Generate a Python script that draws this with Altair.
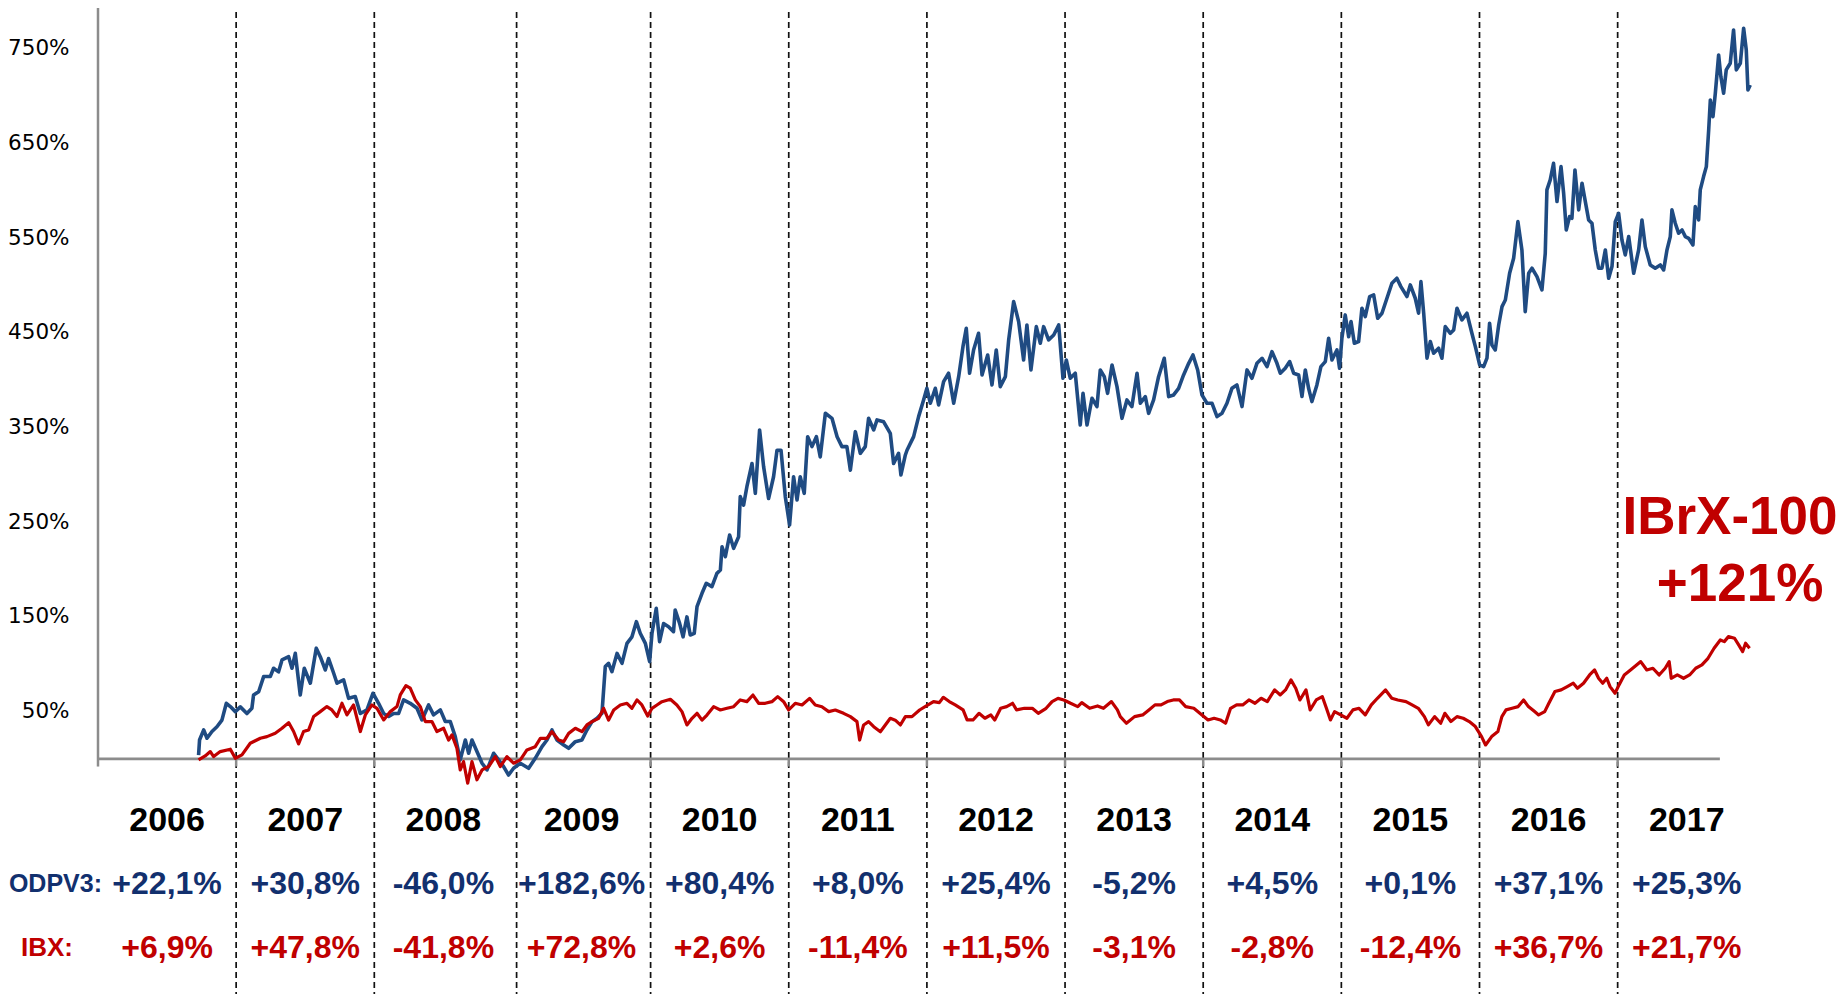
import altair as alt
import pandas as pd

# ---------------- data ----------------
years = list(range(2006, 2018))
odpv3_returns = ["+22,1%", "+30,8%", "-46,0%", "+182,6%", "+80,4%", "+8,0%",
                 "+25,4%", "-5,2%", "+4,5%", "+0,1%", "+37,1%", "+25,3%"]
ibx_returns = ["+6,9%", "+47,8%", "-41,8%", "+72,8%", "+2,6%", "-11,4%",
               "+11,5%", "-3,1%", "-2,8%", "-12,4%", "+36,7%", "+21,7%"]
year_bounds = [2007.0, 2008.0, 2009.03, 2010.0, 2011.0, 2012.0, 2013.0,
               2014.0, 2015.0, 2016.0, 2017.0]
tick_years = [2006.0] + year_bounds
axis_end = 2017.74
y_ticks = [50, 150, 250, 350, 450, 550, 650, 750]

series_label_1 = "ODPV3:"
series_label_2 = "IBX:"
end_label_1 = "IBrX-100"
end_label_2 = "+121%"

odpv3_t = [
    2006.728, 2006.735, 2006.765, 2006.789, 2006.825, 2006.861, 2006.897, 2006.929, 2006.958, 2006.994,
    2007.030, 2007.078, 2007.114, 2007.126, 2007.163, 2007.199, 2007.247, 2007.271, 2007.307, 2007.332,
    2007.380, 2007.404, 2007.428, 2007.464, 2007.493, 2007.537, 2007.580, 2007.609, 2007.645, 2007.669,
    2007.706, 2007.730, 2007.778, 2007.814, 2007.862, 2007.899, 2007.947, 2007.990, 2008.031, 2008.068,
    2008.104, 2008.140, 2008.176, 2008.212, 2008.260, 2008.309, 2008.345, 2008.393, 2008.429, 2008.478,
    2008.514, 2008.550, 2008.586, 2008.622, 2008.659, 2008.683, 2008.707, 2008.743, 2008.780, 2008.816,
    2008.864, 2008.900, 2008.936, 2008.972, 2009.008,
    2009.057, 2009.117, 2009.165, 2009.214, 2009.250, 2009.286, 2009.322, 2009.371, 2009.407, 2009.455,
    2009.503, 2009.539, 2009.576, 2009.612, 2009.648, 2009.672, 2009.696, 2009.720, 2009.757, 2009.793,
    2009.829, 2009.865, 2009.897, 2009.925, 2009.962, 2009.993, 2010.010, 2010.041, 2010.065, 2010.094,
    2010.130, 2010.166, 2010.178, 2010.210, 2010.235, 2010.263, 2010.287, 2010.316, 2010.336, 2010.372,
    2010.403, 2010.444, 2010.480, 2010.505, 2010.517, 2010.541, 2010.572, 2010.601, 2010.637, 2010.649,
    2010.673, 2010.697, 2010.734, 2010.758, 2010.789, 2010.818, 2010.854, 2010.890, 2010.915, 2010.944,
    2010.975, 2011.006, 2011.035, 2011.060, 2011.083, 2011.112, 2011.137, 2011.168, 2011.200, 2011.228,
    2011.265, 2011.313, 2011.350, 2011.385, 2011.421, 2011.446, 2011.482, 2011.518, 2011.554, 2011.578,
    2011.615, 2011.639, 2011.687, 2011.735, 2011.759, 2011.795, 2011.812, 2011.844,
    2011.856, 2011.904, 2011.940, 2011.976, 2012.000, 2012.025, 2012.061, 2012.085, 2012.121, 2012.157,
    2012.194, 2012.230, 2012.261, 2012.285, 2012.309, 2012.338, 2012.374, 2012.399, 2012.440, 2012.471,
    2012.502, 2012.531, 2012.568, 2012.592, 2012.628, 2012.664, 2012.700, 2012.724, 2012.753, 2012.792,
    2012.821, 2012.845, 2012.881, 2012.918, 2012.954, 2012.985, 2013.009, 2013.038, 2013.074, 2013.110,
    2013.130, 2013.159, 2013.195, 2013.231, 2013.255, 2013.284, 2013.308, 2013.340, 2013.376, 2013.412,
    2013.448, 2013.484, 2013.521, 2013.545, 2013.581, 2013.605, 2013.641, 2013.677, 2013.718, 2013.750,
    2013.786, 2013.822, 2013.858, 2013.895, 2013.926, 2013.960, 2013.991, 2014.027, 2014.064, 2014.100,
    2014.136, 2014.172, 2014.208, 2014.244, 2014.281, 2014.317, 2014.353, 2014.389, 2014.426, 2014.462,
    2014.498, 2014.534,
    2014.558, 2014.594, 2014.626, 2014.655, 2014.691, 2014.715, 2014.739, 2014.763, 2014.787, 2014.823,
    2014.852, 2014.884, 2014.908, 2014.932, 2014.968, 2014.987, 2015.004, 2015.028, 2015.053, 2015.070,
    2015.094, 2015.125, 2015.149, 2015.173, 2015.205, 2015.234, 2015.263, 2015.294, 2015.330, 2015.366,
    2015.402, 2015.431, 2015.475, 2015.499, 2015.535, 2015.559, 2015.576, 2015.596, 2015.620, 2015.644,
    2015.668, 2015.704, 2015.728, 2015.752, 2015.789, 2015.813, 2015.837, 2015.873, 2015.909, 2015.945,
    2015.970, 2016.001, 2016.030, 2016.054, 2016.073, 2016.090, 2016.114, 2016.139, 2016.163, 2016.187,
    2016.218, 2016.247, 2016.278, 2016.307, 2016.331, 2016.356, 2016.380, 2016.416, 2016.452, 2016.476,
    2016.488, 2016.512, 2016.536, 2016.561, 2016.590, 2016.609, 2016.628, 2016.652, 2016.669, 2016.691,
    2016.718, 2016.742, 2016.766, 2016.790, 2016.814, 2016.838, 2016.862, 2016.886, 2016.911, 2016.935,
    2016.959, 2016.983, 2017.007, 2017.031, 2017.055, 2017.080, 2017.116, 2017.152, 2017.176, 2017.200,
    2017.236, 2017.272, 2017.309, 2017.333, 2017.357, 2017.381, 2017.393, 2017.417, 2017.441, 2017.466,
    2017.490, 2017.514, 2017.545, 2017.562, 2017.586, 2017.598, 2017.622, 2017.642, 2017.659, 2017.671,
    2017.690, 2017.707, 2017.731, 2017.747, 2017.767, 2017.786, 2017.815, 2017.839, 2017.859, 2017.888,
    2017.912, 2017.931, 2017.943, 2017.960,
]
odpv3_v = [
    4, 20, 30.7, 21.9, 29, 34, 41, 58.8, 55.3, 50,
    55, 48, 53.5, 67.6, 71, 87, 87, 95.8, 92, 104.6,
    108, 95.8, 111.6, 67.6, 95.8, 80, 117, 108, 94, 106,
    90.5, 80, 83.5, 64, 65.9, 48, 51.8, 69.4, 58.8, 48,
    44.8, 48, 48, 62.4, 58.8, 53.5, 41.2, 57, 46.5, 51.8,
    39.5, 39.5, 23.6, -1, 20, 6, 20, 7.8, -4.5, -11.6,
    6, -1, -8, -17, -9.8,
    -4.6, -9.9, 0.7, 13, 20, 30.6, 20, 14.7, 11.2, 18.3,
    20, 30.6, 39.4, 42.9, 48.2, 97.5, 101, 92.2, 111.5, 101,
    122, 129, 145, 132.7, 122, 102.7, 132.7, 159, 123.9, 143,
    139.7, 134.4, 157.3, 143.2, 129, 150, 130.9, 132.7, 160.8, 174.9,
    185.5, 182, 196, 199.5, 224, 213.6, 236.5, 222.4, 234.7, 277,
    268, 287.5, 312, 280.5, 347.4, 308.7, 275, 298, 326, 326,
    277, 247, 298, 273.5, 298, 280.5, 340.3, 329.8, 340.3, 319,
    365, 359.7, 340.3, 329.8, 329.8, 305, 345.6, 322.7, 329.8, 359.7,
    347.4, 358, 356, 343.9, 312, 322.7, 299.9, 321,
    326, 340.4, 361.5, 379, 391.4, 375.6, 391.4, 373.8, 398.5, 407.3,
    375.6, 403.7, 435.4, 454.8, 407.3, 431.9, 449.5, 405.5, 426.6, 395,
    431.9, 393.2, 403.7, 442.5, 483, 461.8, 421.3, 458.3, 410.8, 456.5,
    439, 456.5, 442.5, 447.7, 458.3, 402, 421.3, 402, 407.3, 352.7,
    386.1, 352.7, 380.9, 372.1, 410.8, 403.7, 386.1, 416, 393.2, 359.7,
    379.1, 372.1, 407.3, 375.6, 382.6, 365, 379.1, 403.7, 423.1, 382.6,
    384.4, 391.4, 405.5, 417.8, 426.6, 410.8, 384.4, 375.6, 375.6, 361.5,
    365, 375.6, 391.4, 395, 372.1, 410.8, 402, 417.8, 423.1, 414.3,
    430.1, 417.8,
    407.3, 412.6, 419.6, 407.3, 405.5, 382.7, 410.8, 391.4, 377.4, 395,
    414.3, 419.6, 444.3, 421.4, 431.9, 412.6, 444.3, 468.9, 446, 461.9,
    439, 440.8, 476, 467.1, 488.3, 490, 465.4, 470.7, 486.5, 502.3,
    507.6, 498.8, 488.3, 500.6, 486.5, 470.7, 504.1, 470.7, 423.2, 440.8,
    428.4, 433.7, 423.2, 456.6, 449.5, 453, 475.9, 463.6, 470.7, 449.5,
    435.4, 416.1, 414.3, 423.2, 460.1, 437.2, 431.9, 458.3, 477.7, 484.7,
    512.9, 528.7, 567.4, 537.5, 472.4, 512.9, 518.2, 509.4, 495.3, 534,
    600.9, 611.5, 629, 588.6, 625.5, 597.4, 558.6, 572.7, 571, 622,
    579.8, 608, 588.6, 569.2, 565.7, 537.5, 518.2, 518.2, 537.5, 507.6,
    520, 567.4, 576.2, 548, 532.2, 551.6, 512.9, 537.5, 569.2, 541,
    521.7, 518.2, 521.7, 516.4, 537.5, 551.6, 579.8, 565.7, 555.2, 558.6,
    551.6, 549.8, 542.8, 583.3, 569.2, 600.9, 615, 625.5, 664.2, 695.9,
    678.3, 703, 743.4, 720.6, 703, 727.6, 734.6, 769.8, 727.6, 734.6,
    771.6, 748.7, 706.5, 711.8,
]

ibx_t = [
    2006.728, 2006.776, 2006.813, 2006.837, 2006.885, 2006.958, 2006.994, 2007.042, 2007.102, 2007.175,
    2007.223, 2007.283, 2007.332, 2007.380, 2007.416, 2007.452, 2007.488, 2007.525, 2007.561, 2007.609,
    2007.657, 2007.693, 2007.730, 2007.766, 2007.802, 2007.850, 2007.899, 2007.935, 2007.983, 2008.019,
    2008.068, 2008.116, 2008.164, 2008.188, 2008.229, 2008.260, 2008.297, 2008.333, 2008.369, 2008.417,
    2008.453, 2008.502, 2008.538, 2008.562, 2008.598, 2008.622, 2008.646, 2008.676, 2008.707, 2008.743,
    2008.780, 2008.828, 2008.876, 2008.912, 2008.960, 2009.008,
    2009.057, 2009.105, 2009.165, 2009.202, 2009.250, 2009.286, 2009.334, 2009.371, 2009.407, 2009.455,
    2009.503, 2009.539, 2009.576, 2009.624, 2009.660, 2009.696, 2009.733, 2009.781, 2009.829, 2009.865,
    2009.901, 2009.937, 2009.979, 2010.010, 2010.046, 2010.082, 2010.143, 2010.190, 2010.227, 2010.263,
    2010.300, 2010.336, 2010.372, 2010.408, 2010.456, 2010.505, 2010.553, 2010.601, 2010.649, 2010.697,
    2010.741, 2010.782, 2010.830, 2010.878, 2010.920, 2010.963, 2010.999, 2011.047, 2011.096, 2011.151,
    2011.192, 2011.240, 2011.289, 2011.337, 2011.397, 2011.446, 2011.494, 2011.513, 2011.542, 2011.578,
    2011.615, 2011.663, 2011.699, 2011.735, 2011.771, 2011.808, 2011.844, 2011.892, 2011.947,
    2011.996, 2012.048, 2012.090, 2012.119, 2012.162, 2012.205, 2012.262, 2012.291, 2012.334, 2012.377,
    2012.420, 2012.463, 2012.491, 2012.534, 2012.577, 2012.620, 2012.649, 2012.706, 2012.763, 2012.806,
    2012.863, 2012.906, 2012.949, 2012.991, 2013.040, 2013.092, 2013.121, 2013.178, 2013.235, 2013.278,
    2013.336, 2013.379,
    2013.400, 2013.444, 2013.503, 2013.562, 2013.607, 2013.651, 2013.695, 2013.740, 2013.784, 2013.828,
    2013.873, 2013.932, 2013.991, 2014.035, 2014.079, 2014.124, 2014.162, 2014.198, 2014.242, 2014.286,
    2014.331, 2014.375, 2014.419, 2014.464, 2014.517, 2014.558, 2014.596, 2014.635, 2014.670, 2014.700,
    2014.744, 2014.774, 2014.818, 2014.862, 2014.892, 2014.921, 2014.951, 2014.995, 2015.040, 2015.084,
    2015.128, 2015.173, 2015.217, 2015.261, 2015.320, 2015.365, 2015.409, 2015.468, 2015.512, 2015.557,
    2015.601, 2015.630, 2015.675, 2015.719, 2015.749, 2015.793, 2015.837, 2015.882, 2015.926, 2015.970,
    2016.015, 2016.044, 2016.088, 2016.133, 2016.162, 2016.192, 2016.236, 2016.280, 2016.319, 2016.354,
    2016.399, 2016.428, 2016.472, 2016.502, 2016.546, 2016.591, 2016.635, 2016.679, 2016.709, 2016.753,
    2016.797, 2016.833, 2016.862, 2016.892, 2016.921, 2016.945, 2016.981, 2017.010, 2017.048, 2017.093,
    2017.137, 2017.167, 2017.211, 2017.255, 2017.300, 2017.344, 2017.373, 2017.388, 2017.432, 2017.477,
    2017.521, 2017.565, 2017.610, 2017.654, 2017.698, 2017.743, 2017.772, 2017.802, 2017.846, 2017.876,
    2017.905, 2017.926, 2017.955,
]
ibx_v = [
    -1, 3.2, 7.8, 2.5, 7.8, 10.3, 0.7, 4.3, 16.6, 21.9,
    23.6, 27.2, 32.4, 38.4, 29, 15.9, 29, 30.7, 44.8, 50,
    55.3, 51.8, 44.8, 58.8, 46.5, 57, 29, 46.5, 57, 53.5,
    41.2, 50, 55.3, 67.6, 77.5, 74.7, 62.4, 55.3, 39.5, 39.5,
    29, 32.4, 20, 25.4, 11.3, -11.6, -2.8, -25.6, -2.8, -22,
    -11.6, -8, 2.5, -8, 2.5, -4.5,
    -1, 9.5, 13, 21.8, 21.8, 28.8, 20, 18.3, 27, 32.4,
    28.8, 35.9, 39.4, 42.9, 53.5, 41, 51.7, 57, 58.8, 53.5,
    62.3, 57, 45.4, 53.5, 57, 60.5, 63, 57, 50, 35.9,
    42.9, 48.2, 41, 46.4, 55.2, 51.7, 53.5, 55.2, 62.3, 60.5,
    67.5, 58.8, 58.8, 60.5, 65.8, 60.5, 51.7, 58.8, 57, 64,
    57, 55.2, 50, 51.7, 48.2, 44.7, 39.4, 20, 35.9, 39.4,
    34.1, 28.8, 35.9, 42.9, 41, 35.9, 44.7, 44.7, 51.7,
    56, 60.6, 59.5, 65.1, 60.6, 57, 51.8, 41.2, 41.2, 48.2,
    43, 46.5, 41.2, 53.5, 55.3, 58.8, 51.8, 53.5, 53.5, 48.2,
    53.5, 60.6, 64, 62.3, 58.8, 55.3, 59.5, 53.5, 56, 53.5,
    60.6, 51.8,
    44.7, 37.7, 44.7, 46.5, 51.8, 57.1, 57.1, 60.6, 62.3, 62.3,
    55.3, 53.5, 46.5, 41.2, 43, 41.2, 37.7, 53.5, 57.1, 57.1,
    62.3, 58.8, 64.1, 60.6, 72.9, 67.6, 72.9, 83.5, 74.7, 62.3,
    72.9, 51.8, 62.3, 65.9, 53.5, 41.2, 50, 46.5, 43, 51.8,
    53.5, 46.5, 57.1, 64.1, 72.9, 64.1, 62.3, 60.6, 57.1, 53.5,
    44.7, 36, 44.7, 37.7, 48.2, 39.5, 44.7, 43, 39.5, 34.2,
    23.6, 14.8, 23.6, 28.9, 44.7, 51.8, 53.5, 55.3, 62.3, 55.3,
    50, 46.5, 50, 58.8, 71.2, 72.9, 76.4, 80, 74.7, 80,
    88.7, 94, 85.2, 80, 85.2, 76.4, 69.4, 78.2, 88.7, 94,
    99.3, 102.8, 94, 95.8, 88.7, 95.8, 102.8, 85.2, 88.7, 85.2,
    88.7, 95.8, 99.3, 106.3, 116.9, 125.7, 123.9, 129.2, 127.5, 120.4,
    113.4, 122.2, 116.9,
]

# ---------------- tables ----------------
odpv3_df = pd.DataFrame({"t": odpv3_t, "v": odpv3_v})
ibx_df = pd.DataFrame({"t": ibx_t, "v": ibx_v})
year_df = pd.DataFrame({
    "year": [str(y) for y in years],
    "pos": [y + 0.5 for y in years],
    "od": odpv3_returns,
    "ib": ibx_returns,
})
bounds_df = pd.DataFrame({"b": year_bounds})
ticks_df = pd.DataFrame({"b": tick_years, "y0": 0, "y1": -8})
xaxis_df = pd.DataFrame({"a": [2006.0], "e": [axis_end], "y": [0]})
yaxis_df = pd.DataFrame({"a": [2006.0], "y": [0]})
lab_df = pd.DataFrame({"l1": [series_label_1], "l2": [series_label_2],
                       "e1": [end_label_1], "e2": [end_label_2]})

# ---------------- layout ----------------
W, H = 1739, 986
xs = alt.Scale(domain=[2006, 2006 + W / 138.15], nice=False, zero=False)
ys = alt.Scale(domain=[-248.2, 793.0], nice=False, zero=False)

BLUE_LINE = "#1F4B82"
RED = "#C00000"
NAVY = "#12306E"
FONT = "Liberation Sans"

yaxis = alt.Axis(values=y_ticks, labelExpr="datum.value + '%'", domain=False,
                 ticks=False, grid=False, labelFont="DejaVu Sans", labelFontSize=21.5,
                 labelColor="#000000", labelPadding=29, title=None)


def X(field):
    return alt.X(field, scale=xs, axis=None)


def Y(field):
    return alt.Y(field, scale=ys, axis=yaxis)


dashes = alt.Chart(bounds_df).mark_rule(
    color="#111111", strokeWidth=1.7, strokeDash=[6, 4]
).encode(x=X("b:Q"), y=alt.value(4), y2=alt.value(H))

xline = alt.Chart(xaxis_df).mark_rule(color="#8C8C8C", strokeWidth=2.8).encode(
    x=X("a:Q"), x2="e:Q", y=Y("y:Q"))

yline = alt.Chart(yaxis_df).mark_rule(color="#8C8C8C", strokeWidth=2.5).encode(
    x=X("a:Q"), y=Y("y:Q"), y2=alt.value(0))

ticks = alt.Chart(ticks_df).mark_rule(color="#8C8C8C", strokeWidth=2.5).encode(
    x=X("b:Q"), y=Y("y0:Q"), y2="y1:Q")

blue = alt.Chart(odpv3_df).mark_line(
    color=BLUE_LINE, strokeWidth=3.6, strokeJoin="round"
).encode(x=X("t:Q"), y=Y("v:Q"))

red = alt.Chart(ibx_df).mark_line(
    color=RED, strokeWidth=3.2, strokeJoin="round"
).encode(x=X("t:Q"), y=Y("v:Q"))

year_txt = alt.Chart(year_df).mark_text(
    font=FONT, fontWeight="bold", fontSize=34, color="#000000",
    align="center", baseline="middle"
).encode(x=X("pos:Q"), y=alt.value(813), text="year:N")

od_txt = alt.Chart(year_df).mark_text(
    font=FONT, fontWeight="bold", fontSize=32, color=NAVY,
    align="center", baseline="middle"
).encode(x=X("pos:Q"), y=alt.value(876), text="od:N")

ib_txt = alt.Chart(year_df).mark_text(
    font=FONT, fontWeight="bold", fontSize=32, color=RED,
    align="center", baseline="middle"
).encode(x=X("pos:Q"), y=alt.value(940), text="ib:N")

l1 = alt.Chart(lab_df).mark_text(
    font=FONT, fontWeight="bold", fontSize=25, color=NAVY,
    align="right", baseline="middle"
).encode(x=alt.value(4), y=alt.value(876), text="l1:N")

l2 = alt.Chart(lab_df).mark_text(
    font=FONT, fontWeight="bold", fontSize=26, color=RED,
    align="center", baseline="middle"
).encode(x=alt.value(-51), y=alt.value(940), text="l2:N")

e1 = alt.Chart(lab_df).mark_text(
    font=FONT, fontWeight="bold", fontSize=53, color=RED,
    align="center", baseline="middle"
).encode(x=alt.value(1632), y=alt.value(510), text="e1:N")

e2 = alt.Chart(lab_df).mark_text(
    font=FONT, fontWeight="bold", fontSize=53, color=RED,
    align="center", baseline="middle"
).encode(x=alt.value(1642), y=alt.value(577), text="e2:N")

chart = alt.layer(
    dashes, xline, yline, ticks, blue, red, year_txt, od_txt, ib_txt, l1, l2, e1, e2
).properties(
    width=W, height=H,
    autosize=alt.AutoSizeParams(type="none"),
    padding={"left": 90, "top": 0, "right": 0, "bottom": 0},
    background="white",
).configure_view(stroke=None)

chart.save("out.html", embed_options={"renderer": "svg", "actions": False})
